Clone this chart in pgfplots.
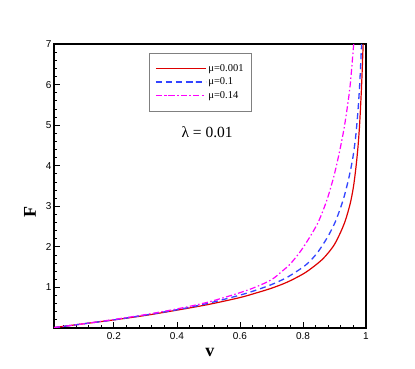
\documentclass[border=0pt]{standalone}
\usepackage{pgfplots}
\pgfplotsset{compat=1.18}
\usepackage{fontspec}
\setmainfont{Liberation Serif}
\setsansfont{Liberation Sans}

\definecolor{cRed}{HTML}{DD0000}
\definecolor{cBlue}{HTML}{3344FF}
\definecolor{cMag}{HTML}{FF00FF}

\begin{document}
\begin{tikzpicture}
\path[use as bounding box] (-54pt,-41pt) rectangle (361pt,328pt);
\begin{axis}[
 at={(0,0)}, anchor=south west,
 scale only axis,
 width=312pt, height=284pt,
 xmin=0.01, xmax=1,
 ymin=0, ymax=7,
 xtick={0.2,0.4,0.6,0.8,1},
 xticklabels={0.2,0.4,0.6,0.8,1},
 ytick={1,2,3,4,5,6,7},
 minor xtick={0.04,0.08,0.12,0.16,0.24,0.28,0.32,0.36,0.44,0.48,0.52,0.56,0.64,0.68,0.72,0.76,0.84,0.88,0.92,0.96},
 minor ytick={0.2,0.4,0.6,0.8,1.2,1.4,1.6,1.8,2.2,2.4,2.6,2.8,3.2,3.4,3.6,3.8,4.2,4.4,4.6,4.8,5.2,5.4,5.6,5.8,6.2,6.4,6.6,6.8},
 tick pos=left,
 tick align=inside,
 major tick length=6pt,
 minor tick length=3pt,
 every tick/.style={black, line width=0.8pt},
 axis line style={line width=1.3pt},
 /pgf/number format/assume math mode=true,
 tick label style={font=\sffamily\fontsize{10}{12}\selectfont},
 xticklabel style={yshift=-1pt},
 yticklabel style={xshift=1pt},
 xlabel={\textbf{v}},
 ylabel={\textbf{F}},
 label style={font=\fontsize{18}{20}\selectfont},
 xlabel style={at={(axis description cs:0.5,-0.085)}, anchor=center},
 ylabel style={at={(axis description cs:-0.077,0.41)}, anchor=center},
 legend style={
  at={(axis description cs:0.304,0.968)}, anchor=north west,
  draw=gray, line width=0.6pt,
  font=\fontsize{10.5}{12}\selectfont,
  inner xsep=6pt, inner ysep=9pt,
  row sep=1pt,
  cells={anchor=west},
 },
 legend image code/.code={\draw[#1] plot coordinates {(0pt,0pt) (25pt,0pt) (50pt,0pt)};},
]

\addplot[cRed, line width=1.2pt, smooth] coordinates {
 (0.01,0.01)(0.1,0.10)(0.2,0.20)(0.3,0.31)(0.4,0.44)(0.5,0.58)(0.6,0.75)
 (0.65,0.86)(0.7,0.98)(0.75,1.13)(0.8,1.33)(0.83,1.49)(0.86,1.68)(0.88,1.85)
 (0.9,2.06)(0.92,2.37)(0.935,2.66)(0.95,3.07)(0.96,3.47)(0.968,3.95)(0.975,4.50)
 (0.98,5.05)(0.985,5.80)(0.988,6.35)(0.991,7.0)
};
\addlegendentry{μ=0.001}

\addplot[cBlue, line width=1.3pt, dash pattern=on 6pt off 4pt, smooth] coordinates {
 (0.01,0.01)(0.1,0.10)(0.2,0.20)(0.3,0.32)(0.4,0.45)(0.5,0.61)(0.6,0.81)
 (0.65,0.93)(0.7,1.07)(0.75,1.25)(0.8,1.50)(0.825,1.67)(0.85,1.90)(0.878,2.24)
 (0.9,2.57)(0.915,2.87)(0.93,3.22)(0.945,3.68)(0.958,4.18)(0.967,4.70)
 (0.974,5.30)(0.98,6.00)(0.986,7.0)
};
\addlegendentry{μ=0.1}

\addplot[cMag, line width=1.2pt, dash pattern=on 6pt off 2.5pt on 1.5pt off 2.5pt, smooth] coordinates {
 (0.01,0.01)(0.1,0.10)(0.2,0.21)(0.3,0.33)(0.4,0.47)(0.5,0.64)(0.6,0.87)
 (0.65,1.01)(0.7,1.19)(0.734,1.40)(0.76,1.58)(0.793,1.90)(0.82,2.22)(0.846,2.57)
 (0.865,2.92)(0.88,3.25)(0.895,3.65)(0.905,3.96)(0.918,4.42)(0.93,4.90)
 (0.94,5.40)(0.95,6.00)(0.961,7.0)
};
\addlegendentry{μ=0.14}

\node[font=\fontsize{15.5}{18}\selectfont] at (axis cs:0.496,4.83) {λ = 0.01};
\end{axis}
\end{tikzpicture}
\end{document}
